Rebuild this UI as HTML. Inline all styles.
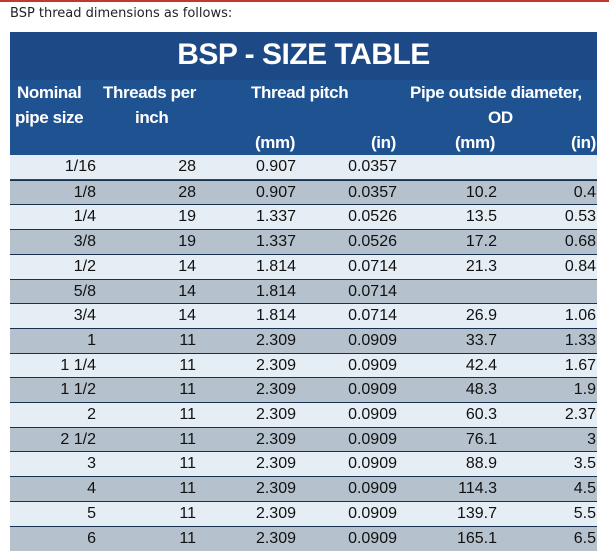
<!DOCTYPE html>
<html><head><style>
body{margin:0;width:609px;height:560px;background:#fff;position:relative;overflow:hidden;font-family:"Liberation Sans",sans-serif}
.top{position:absolute;left:0;top:0;width:609px;height:2px;background:#c0392b}
.cap{position:absolute;left:10px;top:6px;font-size:13px;color:#222;font-family:"DejaVu Sans",sans-serif}
.tbl{position:absolute;left:10px;top:32px;width:587px;height:518px;background:#1d4a86}
.hd{position:absolute;color:#fff;font-weight:bold;font-size:17px;letter-spacing:-0.4px}
.title{position:absolute;left:0;width:587px;top:6px;text-align:center;color:#fff;font-weight:bold;font-size:30px;letter-spacing:-0.5px}
.row{position:absolute;left:0;width:587px;height:24px;border-top:1px solid #17304e}
.row span{position:absolute;top:3px;font-size:16px;color:#111;text-align:right;width:80px}
</style></head><body>
<div class="top"></div>
<div class="cap">BSP thread dimensions as follows:</div>
<div class="tbl">
<div class="title">BSP - SIZE TABLE</div>
<div style="position:absolute;left:0;top:48px;width:587px;height:75px;background:#1f5291"></div>
<div class="hd" style="left:7px;top:51px">Nominal</div>
<div class="hd" style="left:5px;top:76px">pipe size</div>
<div class="hd" style="left:93px;top:51px">Threads per</div>
<div class="hd" style="left:125px;top:76px">inch</div>
<div class="hd" style="left:241px;top:51px">Thread pitch</div>
<div class="hd" style="left:400px;top:51px">Pipe outside diameter,</div>
<div class="hd" style="left:478px;top:76px">OD</div>
<div class="hd" style="left:245px;top:101px">(mm)</div>
<div class="hd" style="left:361px;top:101px">(in)</div>
<div class="hd" style="left:445px;top:101px">(mm)</div>
<div class="hd" style="left:561px;top:101px">(in)</div>
<div id="rows"></div>
</div>
<script>
var d=[["1/16","28","0.907","0.0357","",""],["1/8","28","0.907","0.0357","10.2","0.4"],["1/4","19","1.337","0.0526","13.5","0.53"],["3/8","19","1.337","0.0526","17.2","0.68"],["1/2","14","1.814","0.0714","21.3","0.84"],["5/8","14","1.814","0.0714","",""],["3/4","14","1.814","0.0714","26.9","1.06"],["1","11","2.309","0.0909","33.7","1.33"],["1 1/4","11","2.309","0.0909","42.4","1.67"],["1 1/2","11","2.309","0.0909","48.3","1.9"],["2","11","2.309","0.0909","60.3","2.37"],["2 1/2","11","2.309","0.0909","76.1","3"],["3","11","2.309","0.0909","88.9","3.5"],["4","11","2.309","0.0909","114.3","4.5"],["5","11","2.309","0.0909","139.7","5.5"],["6","11","2.309","0.0909","165.1","6.5"]];
var R=[86,186,286,387,487,586],h="";
d.forEach(function(r,i){var t=123+i*24.7;h+='<div class="row" style="top:'+t+'px;background:'+(i%2?'#b5c1cd':'#e5eef4')+(i==0?';border-top:none':'')+'">';
r.forEach(function(v,j){h+='<span style="left:'+(R[j]-80)+'px">'+v+'</span>'});h+='</div>'});
document.getElementById('rows').innerHTML=h;
</script>
</body></html>
